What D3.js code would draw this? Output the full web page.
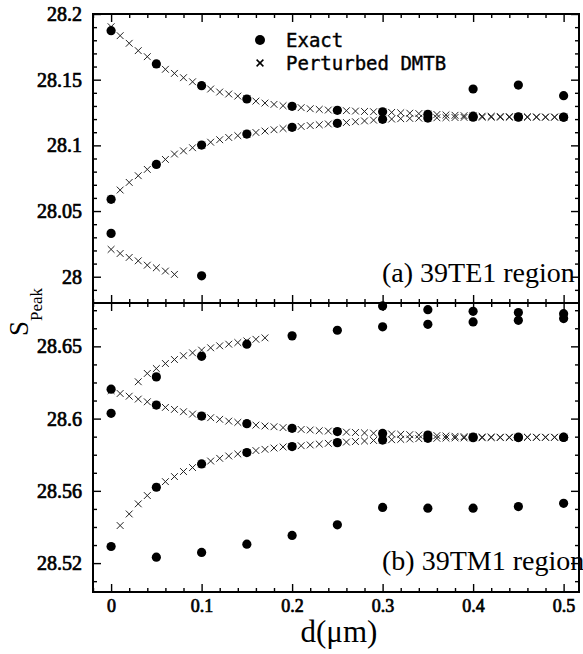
<!DOCTYPE html>
<html>
<head>
<meta charset="utf-8">
<script src="https://cdn.jsdelivr.net/npm/d3@7"></script>
<style>
  body { margin: 0; background: #fff; }
  svg { display: block; }
</style>
</head>
<body>
<div id="chart"></div>
<script>
// S_Peak vs d, two stacked panels: (a) 39TE1 region, (b) 39TM1 region

// d grid of the perturbed DMTB curve (um)
const dFine = [0,0.01,0.02,0.03,0.04,0.05,0.06,0.07,0.08,0.09,0.1,0.11,0.12,0.13,0.14,0.15,0.16,0.17,0.18,0.19,0.2,
  0.21,0.22,0.23,0.24,0.25,0.26,0.27,0.28,0.29,0.3,0.31,0.32,0.33,0.34,0.35,0.36,0.37,0.38,0.39,0.4,
  0.41,0.42,0.43,0.44,0.45,0.46,0.47,0.48,0.49,0.5];

// (a) 39TE1 -- perturbed DMTB branches
const teUpper = [28.1903,28.1835,28.1777,28.1721,28.1675,28.1619,28.1579,28.1548,28.1515,28.1484,28.1454,
  28.1429,28.1406,28.1391,28.1375,28.1355,28.1337,28.1322,28.1312,28.1302,28.1297,
  28.1287,28.1279,28.1274,28.1269,28.1267,28.1264,28.1261,28.1258,28.1256,28.1254,
  28.1251,28.1248,28.1245,28.1242,28.1238,28.1235,28.1232,28.1229,28.1226,28.1224,
  28.1222,28.1221,28.1220,28.1219,28.1218,28.1217,28.1217,28.1216,28.1216,28.1215];
const teLower = [28.0589,28.0660,28.0718,28.0769,28.0817,28.0855,28.0893,28.0934,28.0958,28.0982,28.1002,
  28.1024,28.1043,28.1060,28.1074,28.1086,28.1098,28.1109,28.1119,28.1128,28.1137,
  28.1144,28.1151,28.1157,28.1163,28.1168,28.1174,28.1180,28.1186,28.1192,28.1197,
  28.1200,28.1203,28.1205,28.1207,28.1209,28.1210,28.1211,28.1212,28.1213,28.1213,
  28.1214,28.1214,28.1214,28.1214,28.1214,28.1214,28.1214,28.1214,28.1214,28.1214];
const teThird = [28.0208,28.0177,28.0147,28.0121,28.0088,28.0068,28.0043,28.0018]; // d = 0 .. 0.07

// (a) 39TE1 -- exact [d, S]
const teExact = [
  [0,28.1873],[0,28.0589],[0,28.0330],
  [0.05,28.1620],[0.05,28.0855],
  [0.1,28.1454],[0.1,28.1002],[0.1,28.0007],
  [0.15,28.1353],[0.15,28.1086],
  [0.2,28.1297],[0.2,28.1137],
  [0.25,28.1267],[0.25,28.1168],
  [0.3,28.1256],[0.3,28.1198],
  [0.35,28.1236],[0.35,28.1208],
  [0.4,28.1429],[0.4,28.1222],[0.4,28.1214],
  [0.45,28.1459],[0.45,28.1218],[0.45,28.1214],
  [0.5,28.1378],[0.5,28.1215],[0.5,28.1214]
];

// (b) 39TM1 -- perturbed DMTB branches
const tmRise = [28.6204,28.6250,28.6277,28.6305,28.6327,28.6348,28.6364,28.6379,28.6392,28.6403,
  28.6412,28.6421,28.6430,28.6439,28.6447]; // d = 0.03 .. 0.17
const tmMid = [28.6155,28.6139,28.6124,28.6108,28.6093,28.6075,28.6062,28.6051,28.6038,28.6025,28.6014,
  28.6005,28.5996,28.5986,28.5979,28.5972,28.5964,28.5959,28.5955,28.5950,28.5946,
  28.5940,28.5937,28.5933,28.5931,28.5928,28.5925,28.5923,28.5921,28.5919,28.5918,
  28.5915,28.5913,28.5911,28.5909,28.5908,28.5906,28.5904,28.5902,28.5900,28.5899,
  28.5898,28.5898,28.5897,28.5897,28.5897,28.5897,28.5897,28.5897,28.5897,28.5897];
const tmLow = [28.5408,28.5472,28.5528,28.5574,28.5620,28.5651,28.5679,28.5707,28.5729,28.5749,
  28.5765,28.5780,28.5793,28.5804,28.5812,28.5823,28.5830,28.5837,28.5843,28.5845,
  28.5850,28.5854,28.5859,28.5863,28.5867,28.5870,28.5873,28.5876,28.5879,28.5881,
  28.5883,28.5885,28.5887,28.5889,28.5890,28.5891,28.5892,28.5893,28.5893,28.5894,
  28.5894,28.5895,28.5895,28.5895,28.5896,28.5896,28.5896,28.5896,28.5896,28.5896]; // d = 0.01 .. 0.5

// (b) 39TM1 -- exact [d, S]
const tmExact = [
  [0,28.6163],[0,28.6029],[0,28.5292],
  [0.05,28.6231],[0.05,28.6075],[0.05,28.5620],[0.05,28.5233],
  [0.1,28.6345],[0.1,28.6014],[0.1,28.5749],[0.1,28.5259],
  [0.15,28.6412],[0.15,28.5972],[0.15,28.5812],[0.15,28.5305],
  [0.2,28.6458],[0.2,28.5946],[0.2,28.5845],[0.2,28.5353],
  [0.25,28.6489],[0.25,28.5928],[0.25,28.5867],[0.25,28.5412],
  [0.3,28.6624],[0.3,28.6508],[0.3,28.5918],[0.3,28.5881],[0.3,28.5508],
  [0.35,28.6603],[0.35,28.6522],[0.35,28.5909],[0.35,28.5891],[0.35,28.5504],
  [0.4,28.6594],[0.4,28.6535],[0.4,28.5898],[0.4,28.5894],[0.4,28.5504],
  [0.45,28.6587],[0.45,28.6544],[0.45,28.5897],[0.45,28.5895],[0.45,28.5513],
  [0.5,28.6581],[0.5,28.6554],[0.5,28.5897],[0.5,28.5896],[0.5,28.5531]
];

// ticks
const xTicks = [0,0.1,0.2,0.3,0.4,0.5];
const xTickLabels = ['0','0.1','0.2','0.3','0.4','0.5'];
const teTicks = [28,28.05,28.1,28.15,28.2];
const teTickLabels = ['28','28.05','28.1','28.15','28.2'];
const tmTicks = [28.52,28.56,28.6,28.64];
const tmTickLabels = ['28.52','28.56','28.6','28.65'];

const W = 583, H = 654;
const L = 93, R = 579, T = 14, MID = 303, B = 592;

const svg = d3.select('#chart').append('svg').attr('width', W).attr('height', H);
svg.append('rect').attr('width', W).attr('height', H).attr('fill', '#fff');

const x = d3.scaleLinear().domain([-0.02, 0.517]).range([L, R]);
const yTE = d3.scaleLinear().domain([27.98, 28.2]).range([MID, T]);
const yTM = d3.scaleLinear().domain([28.504, 28.664]).range([B, MID]);

const xMinor = d3.range(-1, 26).filter(v => v % 5 !== 0).map(v => v / 50);
const teMinor = d3.range(2799, 2820).filter(v => v % 5 !== 0).map(v => v / 100);
const tmMinor = d3.range(2851, 2867).filter(v => v % 4 !== 0).map(v => v / 100);

const serif = '"Liberation Serif", "Times New Roman", Times, serif';

function tickAxis(axis, at, vals, size, labels) {
  const g = svg.append('g').attr('transform', at);
  axis.tickValues(vals).tickSize(-size)
      .tickFormat(labels ? (d, i) => labels[i] : '');
  g.call(axis);
  g.select('.domain').remove();
  g.selectAll('.tick line').attr('stroke', '#000').attr('stroke-width', 1.4);
  g.attr('font-family', null).attr('font-size', null);
  return g;
}

// serif digits made heavy with a thin outline
function boldSerif(sel, size) {
  sel.style('font-family', serif).style('font-size', size + 'px')
    .attr('fill', '#000').attr('stroke', '#000').attr('stroke-width', 0.7);
}

function panel(y, yMajor, yMinor, yLabels, top, bottom, showX) {
  // left
  const gl = tickAxis(d3.axisLeft(y).tickPadding(11), `translate(${L},0)`, yMajor, 8, yLabels);
  boldSerif(gl.selectAll('text'), 20);
  tickAxis(d3.axisLeft(y), `translate(${L},0)`, yMinor, 4);
  // right
  tickAxis(d3.axisRight(y), `translate(${R},0)`, yMajor, 8);
  tickAxis(d3.axisRight(y), `translate(${R},0)`, yMinor, 4);
  // top
  tickAxis(d3.axisTop(x), `translate(0,${top})`, xTicks, 8);
  tickAxis(d3.axisTop(x), `translate(0,${top})`, xMinor, 4);
  // bottom
  const gb = tickAxis(d3.axisBottom(x).tickPadding(7), `translate(0,${bottom})`, xTicks, 8,
    showX ? xTickLabels : null);
  boldSerif(gb.selectAll('text'), 18);
  tickAxis(d3.axisBottom(x), `translate(0,${bottom})`, xMinor, 4);
}

panel(yTE, teTicks, teMinor, teTickLabels, T, MID, false);
panel(yTM, tmTicks, tmMinor, tmTickLabels, MID, B, true);

// frame
svg.append('rect').attr('x', L).attr('y', T).attr('width', R - L).attr('height', B - T)
  .attr('fill', 'none').attr('stroke', '#000').attr('stroke-width', 2);
svg.append('line').attr('x1', L).attr('x2', R).attr('y1', MID).attr('y2', MID)
  .attr('stroke', '#000').attr('stroke-width', 2);

const crossPath = 'M-3.4,-3.4L3.4,3.4M-3.4,3.4L3.4,-3.4';

function crosses(ds, vals, y) {
  svg.append('g').selectAll('path').data(vals).join('path')
    .attr('transform', (v, i) => `translate(${x(ds[i])},${y(v)})`)
    .attr('d', crossPath).attr('fill', 'none').attr('stroke', '#222').attr('stroke-width', 1);
}
function dots(pts, y) {
  svg.append('g').selectAll('circle').data(pts).join('circle')
    .attr('cx', d => x(d[0])).attr('cy', d => y(d[1])).attr('r', 4.6).attr('fill', '#000');
}

crosses(dFine, teUpper, yTE);
crosses(dFine, teLower, yTE);
crosses(dFine.slice(0, 8), teThird, yTE);
crosses(dFine.slice(3, 18), tmRise, yTM);
crosses(dFine, tmMid, yTM);
crosses(dFine.slice(1), tmLow, yTM);
dots(teExact, yTE);
dots(tmExact, yTM);

// legend
const lg = svg.append('g');
lg.append('circle').attr('cx', 260).attr('cy', 40).attr('r', 5).attr('fill', '#000');
lg.append('path').attr('transform', 'translate(260,63)').attr('d', crossPath)
  .attr('stroke', '#000').attr('stroke-width', 1.5);
const mono = '"DejaVu Sans Mono", "Liberation Mono", monospace';
lg.append('text').attr('x', 286).attr('y', 46.5).text('Exact')
  .style('font-family', mono).style('font-size', '19px')
  .attr('stroke', '#000').attr('stroke-width', 0.4);
lg.append('text').attr('x', 286).attr('y', 69.5).text('Perturbed DMTB')
  .style('font-family', mono).style('font-size', '19px')
  .attr('stroke', '#000').attr('stroke-width', 0.4);

// panel captions
svg.append('text').attr('x', 382).attr('y', 282).text('(a) 39TE1 region')
  .style('font-family', serif).style('font-size', '28px');
svg.append('text').attr('x', 382).attr('y', 570).text('(b) 39TM1 region')
  .style('font-family', serif).style('font-size', '28px');

// axis titles
const yt = svg.append('text').attr('transform', 'translate(28,336) rotate(-90)')
  .style('font-family', serif).style('font-size', '27px');
yt.append('tspan').text('S');
yt.append('tspan').attr('dy', 14).style('font-size', '17px').text('Peak');

svg.append('text').attr('x', 339).attr('y', 642).attr('text-anchor', 'middle')
  .style('font-family', serif).style('font-size', '31px').text('d(μm)');
</script>
</body>
</html>
